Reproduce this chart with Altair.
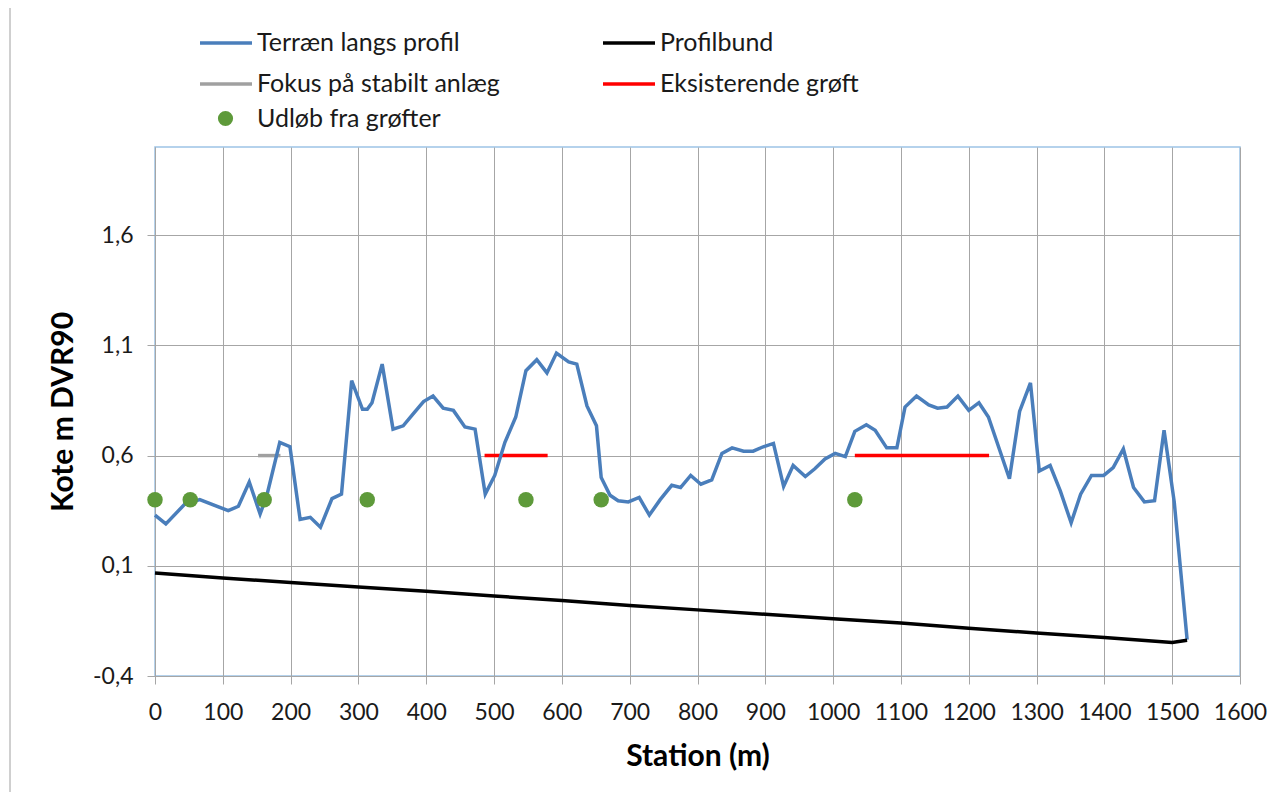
import altair as alt
import pandas as pd

# ---- data ----
terrain_x = [0, 16, 44, 66, 108, 123, 139, 155, 165, 184, 199, 214, 229, 244, 261, 275,
             290, 306, 313, 320, 335, 351, 366, 381, 396, 410, 425, 440, 457, 472, 487,
             501, 516, 532, 547, 563, 578, 592, 610, 622, 637, 651, 658, 671, 683, 698,
             714, 729, 745, 762, 775, 790, 805, 821, 836, 851, 868, 882, 897, 912, 927,
             941, 959, 973, 988, 1003, 1018, 1032, 1049, 1062, 1079, 1094, 1106, 1123,
             1141, 1154, 1168, 1184, 1200, 1215, 1229, 1260, 1275, 1291, 1304, 1320,
             1335, 1351, 1365, 1381, 1399, 1413, 1428, 1443, 1459, 1474, 1488, 1503, 1522]
terrain_y = [0.33, 0.29, 0.38, 0.40, 0.35, 0.37, 0.48, 0.335, 0.42, 0.66, 0.64, 0.31, 0.32,
             0.275, 0.405, 0.425, 0.94, 0.81, 0.81, 0.84, 1.015, 0.72, 0.735, 0.79, 0.845,
             0.87, 0.815, 0.805, 0.73, 0.72, 0.425, 0.51, 0.66, 0.775, 0.985, 1.035, 0.975,
             1.065, 1.025, 1.015, 0.825, 0.735, 0.50, 0.42, 0.395, 0.39, 0.41, 0.33, 0.40,
             0.465, 0.455, 0.51, 0.47, 0.49, 0.61, 0.635, 0.62, 0.62, 0.64, 0.655, 0.46,
             0.555, 0.505, 0.54, 0.585, 0.61, 0.595, 0.71, 0.74, 0.715, 0.635, 0.635, 0.82,
             0.87, 0.83, 0.815, 0.82, 0.87, 0.805, 0.84, 0.775, 0.495, 0.80, 0.93, 0.53,
             0.555, 0.44, 0.295, 0.425, 0.51, 0.51, 0.545, 0.63, 0.455, 0.39, 0.395, 0.715,
             0.39, -0.235]

bund_x = [0, 100, 200, 300, 400, 500, 600, 700, 800, 900, 1000, 1100, 1200, 1300, 1400, 1500, 1522]
bund_y = [0.067, 0.045, 0.024, 0.004, -0.016, -0.037, -0.057, -0.08, -0.10, -0.12, -0.14,
          -0.16, -0.183, -0.205, -0.225, -0.248, -0.238]

fokus_x = [152, 185]
fokus_y = [0.6, 0.6]

groft_x = [486, 579, 1032, 1230]
groft_y = [0.6, 0.6, 0.6, 0.6]
groft_seg = [1, 1, 2, 2]

udlob_x = [0, 52, 161, 313, 547, 658, 1032]
udlob_y = [0.40, 0.40, 0.40, 0.40, 0.40, 0.40, 0.40]

# legend is filled column by column: Terræn, Fokus | Profilbund, Eksisterende
line_names = ["Terræn langs profil", "Fokus på stabilt anlæg", "Profilbund", "Eksisterende grøft"]
line_colors = ["#4A7EBB", "#A0A0A0", "#000000", "#FF0000"]
point_names = ["Udløb fra grøfter"]
point_colors = ["#5E9A3A"]

x_ticks = list(range(0, 1700, 100))
y_ticks = [-0.4, 0.1, 0.6, 1.1, 1.6]

FONT = "Lato"

terrain = pd.DataFrame({"x": terrain_x, "y": terrain_y, "series": line_names[0]})
fokus = pd.DataFrame({"x": fokus_x, "y": fokus_y, "series": line_names[1]})
bund = pd.DataFrame({"x": bund_x, "y": bund_y, "series": line_names[2]})
groft = pd.DataFrame({"x": groft_x, "y": groft_y, "seg": groft_seg, "series": line_names[3]})
udlob = pd.DataFrame({"x": udlob_x, "y": udlob_y, "series": point_names[0]})

X = alt.X("x:Q", scale=alt.Scale(domain=[0, 1600], nice=False),
          axis=alt.Axis(values=x_ticks, title="Station (m)", grid=True, format="d"))
Y = alt.Y("y:Q", scale=alt.Scale(domain=[-0.4, 2.0], nice=False, zero=False),
          axis=alt.Axis(values=y_ticks, title="Kote m DVR90", grid=True,
                        labelExpr="replace(toString(datum.value), '.', ',')"))

common_legend = dict(title=None, orient="none", padding=0, labelFont=FONT, labelFontSize=25,
                     labelColor="#1a1a1a", labelLimit=500)

line_legend = alt.Legend(legendX=43, legendY=-132, columns=2, columnPadding=96,
                         rowPadding=-16, symbolType="stroke", symbolStrokeWidth=3.5,
                         symbolSize=2704, labelOffset=3, **common_legend)
point_legend = alt.Legend(legendX=58, legendY=-41, symbolType="circle", symbolSize=230,
                          symbolStrokeWidth=0, labelOffset=19, **common_legend)

C = alt.Color("series:N", scale=alt.Scale(domain=line_names, range=line_colors), legend=line_legend)
F = alt.Fill("series:N", scale=alt.Scale(domain=point_names, range=point_colors), legend=point_legend)

l_fokus = alt.Chart(fokus).mark_line(strokeWidth=3.5).encode(x=X, y=Y, color=C)
l_groft = alt.Chart(groft).mark_line(strokeWidth=3.5).encode(x=X, y=Y, color=C, detail="seg:N")
l_terr = alt.Chart(terrain).mark_line(strokeWidth=3.5).encode(x=X, y=Y, color=C)
l_bund = alt.Chart(bund).mark_line(strokeWidth=3.5).encode(x=X, y=Y, color=C)
l_pts = alt.Chart(udlob).mark_circle(size=240, opacity=1).encode(x=X, y=Y, fill=F)

frame = alt.Chart(pd.DataFrame({"a": [0]})).mark_rule(color="#A0A0A0", strokeWidth=1).encode(
    x=alt.value(-145), y=alt.value(-150), y2=alt.value(660))

chart = alt.layer(frame, l_fokus, l_groft, l_terr, l_bund, l_pts).properties(
    width=1085, height=529,
    autosize=alt.AutoSizeParams(type="none"),
    padding={"left": 147, "top": 139, "right": 34, "bottom": 116},
    background="white",
).configure_view(
    stroke="#9DC3E6", strokeWidth=1.5
).configure_axis(
    gridColor="#A6A6A6", gridWidth=1, gridOpacity=1,
    domainColor="#A6A6A6", domainWidth=1,
    tickColor="#A6A6A6", tickSize=8, tickWidth=1,
    labelFont=FONT, labelFontSize=23, labelColor="#1a1a1a",
    titleFont=FONT, titleFontSize=30, titleFontWeight="bold", titleColor="#000000",
).configure_axisX(
    labelPadding=17, titlePadding=17, labelFlush=False, labelOverlap=False
).configure_axisY(
    labelPadding=14, titlePadding=14, labelFlush=False
)

chart.save("out.html", embed_options={"renderer": "svg", "actions": False})
